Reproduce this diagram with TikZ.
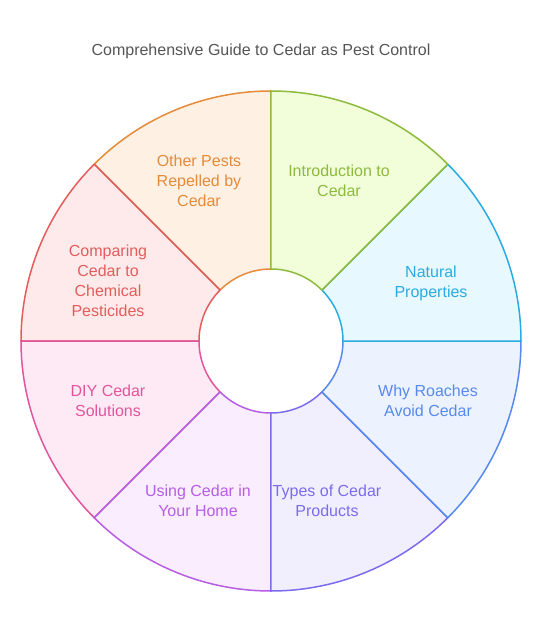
\documentclass[tikz,border=0pt]{standalone}
\usepackage{fontspec}
\setmainfont{Liberation Sans}
\usepackage{xcolor}
\definecolor{titlegray}{RGB}{85,85,85}
\definecolor{limeline}{RGB}{141,187,59}
\definecolor{limefill}{RGB}{242,253,218}
\definecolor{cyanline}{RGB}{42,172,226}
\definecolor{cyanfill}{RGB}{231,248,254}
\definecolor{blueline}{RGB}{88,138,236}
\definecolor{bluefill}{RGB}{236,242,254}
\definecolor{indigoline}{RGB}{123,108,238}
\definecolor{indigofill}{RGB}{241,238,254}
\definecolor{purpleline}{RGB}{183,94,228}
\definecolor{purplefill}{RGB}{249,237,254}
\definecolor{pinkline}{RGB}{226,85,156}
\definecolor{pinkfill}{RGB}{254,234,244}
\definecolor{redline}{RGB}{227,93,93}
\definecolor{redfill}{RGB}{254,234,234}
\definecolor{orangeline}{RGB}{230,139,58}
\definecolor{orangefill}{RGB}{254,240,227}
\usepackage{tikz}
\usetikzlibrary{positioning}

\newcommand{\cedarseg}[3]{% start angle, end angle, colour name
\filldraw[segment,draw=#3line,fill=#3fill] (#1:72) arc[start angle=#1,end angle=#2,radius=72]
  -- (#2:250) arc[start angle=#2,end angle=#1,radius=250] -- cycle;
}

\begin{document}
\begin{tikzpicture}[x=1pt,y=1pt,
  segment/.style={line width=1.5pt,line join=round},
  seglabel/.style={align=center,font=\fontsize{16}{20}\selectfont},
  title/.style={font=\fontsize{16}{19}\selectfont,text=titlegray}]
\useasboundingbox (-271,-291) rectangle (271,341);

% sectors, drawn so each shared edge takes the right colour
\cedarseg{135}{90}{orange}
\cedarseg{180}{135}{red}
\cedarseg{225}{180}{pink}
\cedarseg{270}{225}{purple}
\cedarseg{315}{270}{indigo}
\cedarseg{360}{315}{blue}
\cedarseg{45}{0}{cyan}
\cedarseg{90}{45}{lime}

\node[title] (title) at (-10,290) {Comprehensive Guide to Cedar as Pest Control};

\node[seglabel,text=limeline] (intro) at (68,160) {Introduction to\\Cedar};
\node[seglabel,text=cyanline] (natural) at (160,58) {Natural\\Properties};
\node[seglabel,text=blueline] (roaches) at (157,-60) {Why Roaches\\Avoid Cedar};
\node[seglabel,text=indigoline] (types) at (56,-160) {Types of Cedar\\Products};
\node[seglabel,text=purpleline] (home) at (-73,-160) {Using Cedar in\\Your Home};
\node[seglabel,text=pinkline] (diy) at (-163,-60) {DIY Cedar\\Solutions};
\node[seglabel,text=redline] (compare) at (-163,60) {Comparing\\Cedar to\\Chemical\\Pesticides};
\node[seglabel,text=orangeline] (pests) at (-72,160) {Other Pests\\Repelled by\\Cedar};
\end{tikzpicture}
\end{document}
